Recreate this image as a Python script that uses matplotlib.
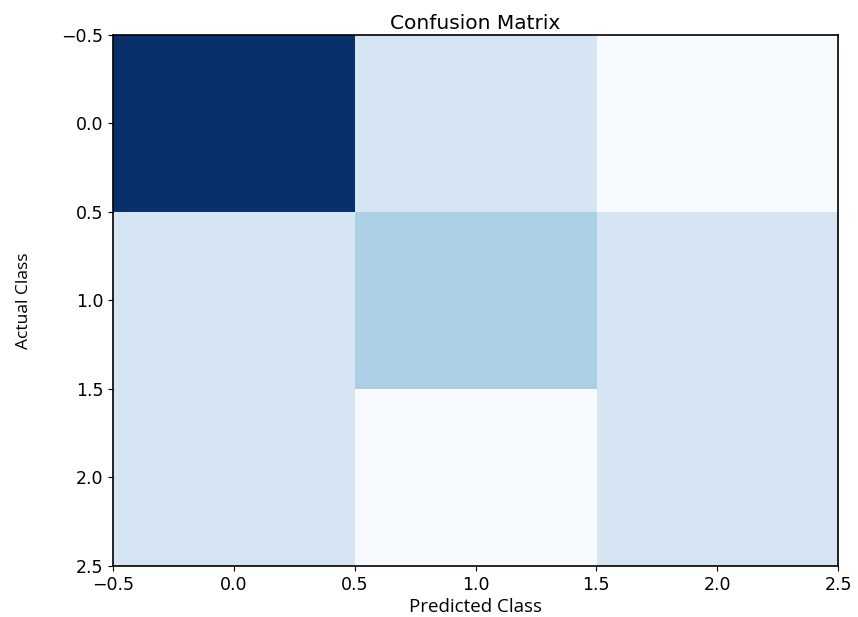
import matplotlib
matplotlib.use("Agg")
import matplotlib.pyplot as plt
import numpy as np

classes = [0, 1, 2]
confusion = [
    [6, 1, 0],
    [1, 2, 1],
    [1, 0, 1],
]
title = "Confusion Matrix"
xlabel = "Predicted Class"
ylabel = "Actual Class"

fig = plt.figure(figsize=(8.58, 6.17), dpi=100)
ax = fig.add_axes([0.1317, 0.0827, 0.845, 0.8606])
ax.imshow(np.array(confusion), cmap="Blues", aspect="auto", interpolation="nearest")
ax.set_title(title, fontsize=14.5, pad=4)
ax.set_xlabel(xlabel, fontsize=13.5, family=["Open Sans", "DejaVu Sans"], labelpad=3)
ax.set_ylabel(ylabel, fontsize=12.5, family=["Open Sans", "DejaVu Sans"], labelpad=21)
ax.set_xticks(np.arange(-0.5, 2.6, 0.5))
ax.set_yticks(np.arange(-0.5, 2.6, 0.5))
ax.tick_params(labelsize=12.5)
for s in ax.spines.values():
    s.set_linewidth(1.2)
fig.savefig("out.png", dpi=100)
